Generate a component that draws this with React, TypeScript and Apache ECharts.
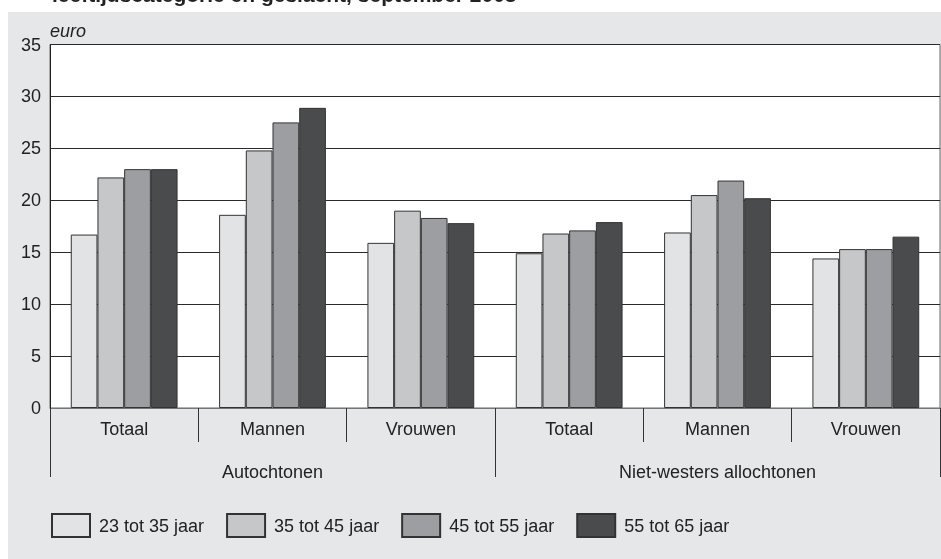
import React, { useEffect, useRef } from "react";
import * as echarts from "echarts";

const subCategories = ["Totaal", "Mannen", "Vrouwen", "Totaal", "Mannen", "Vrouwen"];
const groupCategories = ["Autochtonen", "Niet-westers allochtonen"];
const seriesNames = ["23 tot 35 jaar", "35 tot 45 jaar", "45 tot 55 jaar", "55 tot 65 jaar"];
const age23to35 = [16.7, 18.6, 15.9, 14.9, 16.9, 14.4];
const age35to45 = [22.2, 24.8, 19.0, 16.8, 20.5, 15.3];
const age45to55 = [23.0, 27.5, 18.3, 17.1, 21.9, 15.3];
const age55to65 = [23.0, 28.9, 17.8, 17.9, 20.2, 16.5];
const yTicks = { min: 0, max: 35, interval: 5 };
const titleText = "leeftijdscategorie en geslacht, september 2003";

const colors = ["#e2e3e5", "#c6c7c9", "#9d9ea2", "#4a4b4d"];
const FONT = "'Liberation Sans', Arial, Helvetica, sans-serif";

export default function App() {
  const ref = useRef<HTMLDivElement>(null);
  useEffect(() => {
    if (!ref.current) return;
    const chart = echarts.init(ref.current, undefined, { renderer: "svg" });
    const values = [age23to35, age35to45, age45to55, age55to65];
    chart.setOption({
      animation: false,
      textStyle: { fontFamily: FONT, color: "#222" },
      graphic: [
        {
          type: "rect",
          z: -100,
          silent: true,
          shape: { x: 8, y: 12, width: 933, height: 547 },
          style: { fill: "#e6e7e9" },
        },
        {
          type: "text",
          x: 52,
          y: 5,
          style: {
            text: titleText,
            font: `bold 21px ${FONT}`,
            fill: "#222",
            textVerticalAlign: "bottom",
          },
        },
      ],
      grid: {
        left: 50,
        right: 1,
        top: 44.5,
        bottom: 151,
        show: true,
        backgroundColor: "#ffffff",
        borderColor: "#666",
        borderWidth: 1,
      },
      legend: {
        left: 51,
        top: 513,
        padding: 0,
        itemWidth: 38,
        itemHeight: 23,
        itemGap: 22,
        icon: "rect",
        data: seriesNames,
        textStyle: { fontSize: 18, color: "#222", fontFamily: FONT, padding: [0, 0, 0, 4] },
      },
      xAxis: [
        {
          type: "category",
          data: subCategories,
          position: "bottom",
          axisLine: { show: true, lineStyle: { color: "#777", width: 1 } },
          axisTick: { show: true, length: 34, lineStyle: { color: "#333", width: 1 } },
          axisLabel: { fontSize: 18, color: "#222", margin: 12, fontFamily: FONT },
        },
        {
          type: "category",
          data: groupCategories,
          position: "bottom",
          axisLine: { show: false },
          axisTick: { show: true, length: 69, lineStyle: { color: "#333", width: 1 } },
          axisLabel: { fontSize: 18, color: "#222", margin: 55, fontFamily: FONT },
        },
      ],
      yAxis: {
        type: "value",
        min: yTicks.min,
        max: yTicks.max,
        interval: yTicks.interval,
        name: "euro",
        nameLocation: "end",
        nameGap: 14,
        nameTextStyle: {
          fontSize: 18,
          fontStyle: "italic",
          color: "#222",
          align: "left",
          verticalAlign: "middle",
          fontFamily: FONT,
        },
        axisLine: { show: true, lineStyle: { color: "#222", width: 1 } },
        axisTick: { show: false },
        axisLabel: { fontSize: 18, color: "#222", margin: 9, fontFamily: FONT },
        splitLine: { show: true, lineStyle: { color: "#2a2a2a", width: 1 } },
      },
      series: seriesNames.map((name, i) => ({
        name,
        type: "bar",
        xAxisIndex: 0,
        data: values[i],
        barGap: "0%",
        barCategoryGap: "28%",
        itemStyle: { color: colors[i], borderColor: "#333", borderWidth: 1 },
      })),
    });
    return () => chart.dispose();
  }, []);
  return (
    <div
      ref={ref}
      style={{ position: "fixed", left: 0, top: 0, width: 941, height: 559, overflow: "hidden" }}
    />
  );
}
